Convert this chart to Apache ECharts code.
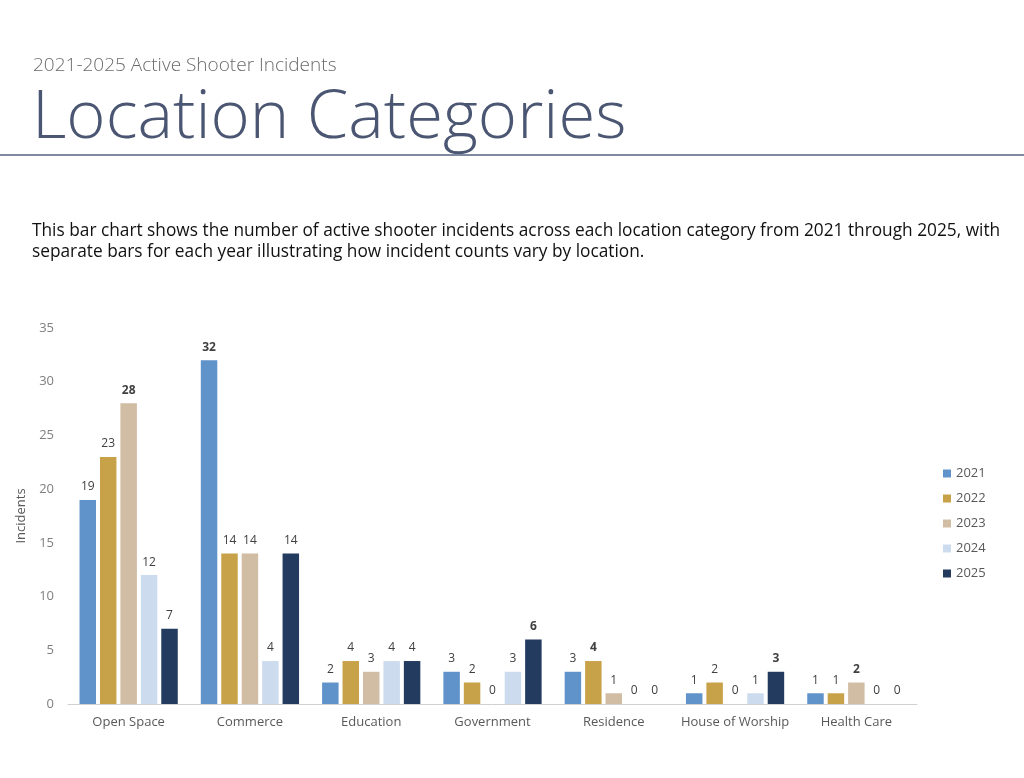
<!DOCTYPE html>
<html><head><meta charset="utf-8">
<style>html,body{margin:0;padding:0;background:#fff}#c{width:1024px;height:778px}</style>
<script src="https://cdn.jsdelivr.net/npm/echarts@6/dist/echarts.min.js"></script>
</head><body><div id="c"></div>
<script>
const categories = ['Open Space','Commerce','Education','Government','Residence','House of Worship','Health Care'];
const years = ['2021','2022','2023','2024','2025'];
const v2021 = [19,32,2,3,3,1,1];
const v2022 = [23,14,4,2,4,2,1];
const v2023 = [28,14,3,0,1,0,2];
const v2024 = [12,4,4,3,0,1,0];
const v2025 = [7,14,4,6,0,3,0];
const yTicks = {min:0,max:35,interval:5};
const colors = ['#6193cb','#c8a248','#d1bca4','#ccdcee','#233b5e'];
const seriesValues = [v2021,v2022,v2023,v2024,v2025];

// bold the unique maximum in each category
const boldFlags = seriesValues.map((vals,si)=>vals.map((v,ci)=>{
  const col = seriesValues.map(s=>s[ci]);
  const mx = Math.max(...col);
  return v===mx && col.filter(x=>x===mx).length===1;
}));

const chart = echarts.init(document.getElementById('c'));
chart.setOption({
  animation:false,
  backgroundColor:'#fff',
  title:[
    {text:'2021-2025 Active Shooter Incidents',left:28,top:51,textStyle:{fontFamily:'Open Sans',fontWeight:300,fontSize:19,color:'#6b6b6b'}},
    {text:'Location Categories',left:27,top:80,textStyle:{fontFamily:'Open Sans',fontWeight:300,fontSize:67,color:'#4b5672'}},
    {text:'This bar chart shows the number of active shooter incidents across each location category from 2021 through 2025, with\nseparate bars for each year illustrating how incident counts vary by location.',
     left:27,top:216,textStyle:{fontFamily:'Open Sans',fontWeight:'normal',fontSize:17.3,lineHeight:21,color:'#111'}}
  ],
  graphic:[{type:'rect',shape:{x:0,y:154,width:1024,height:2},style:{fill:'#7f8aa0'}}],
  legend:{orient:'vertical',left:938,top:462,itemGap:12,itemWidth:8,itemHeight:8,icon:'rect',
    data:years,textStyle:{fontFamily:'Open Sans',fontSize:13,color:'#595959'}},
  grid:{left:68,right:107,top:328,bottom:74},
  xAxis:{type:'category',data:categories,
    axisLine:{lineStyle:{color:'#d0d0d0'}},axisTick:{show:false},
    axisLabel:{interval:0,fontFamily:'Open Sans',fontSize:13,color:'#595959',margin:12}},
  yAxis:{type:'value',min:yTicks.min,max:yTicks.max,interval:yTicks.interval,
    name:'Incidents',nameLocation:'middle',nameGap:40,nameRotate:90,
    nameTextStyle:{fontFamily:'Open Sans',fontSize:13,color:'#595959'},
    axisLine:{show:false},axisTick:{show:false},splitLine:{show:false},
    axisLabel:{fontFamily:'Open Sans',fontSize:13,color:'#7f7f7f',margin:14}},
  series:years.map((y,si)=>({
    name:y,type:'bar',barGap:'24%',barCategoryGap:'19%',
    itemStyle:{color:colors[si]},
    label:{show:true,position:'top',distance:7,fontFamily:'Open Sans',fontSize:12,color:'#404040'},
    data:seriesValues[si].map((v,ci)=>({value:v,label:{fontWeight:boldFlags[si][ci]?'bold':'normal'}}))
  }))
});
</script></body></html>
